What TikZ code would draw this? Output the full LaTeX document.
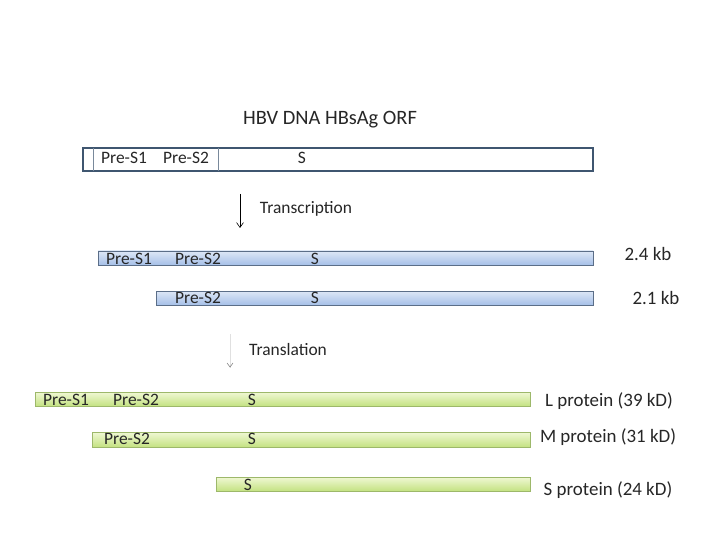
\documentclass[tikz,border=0pt]{standalone}
\usepackage{fontspec}
\setmainfont{Carlito}
\usetikzlibrary{arrows.meta}
\definecolor{boxline}{HTML}{3F5670}
\definecolor{bluetop}{HTML}{DDE7F6}
\definecolor{bluebot}{HTML}{A6C0E8}
\definecolor{blueline}{HTML}{5B6E88}
\definecolor{greentop}{HTML}{F0F8D4}
\definecolor{greenbot}{HTML}{C4E282}
\definecolor{greenline}{HTML}{9DB86A}
\tikzset{
  lbl/.style={inner sep=0pt, font=\fontsize{17.5}{20}\selectfont, text=black!85},
  rlbl/.style={inner sep=0pt, font=\fontsize{19}{22}\selectfont, text=black!85},
  bluebar/.style={draw=blueline, line width=0.6pt, top color=bluetop, bottom color=bluebot},
  greenbar/.style={draw=greenline, line width=0.6pt, top color=greentop, bottom color=greenbot},
}
\begin{document}
\begin{tikzpicture}[x=1bp,y=-1bp]
\useasboundingbox (0,0) rectangle (720,540);
% title
\node[inner sep=0pt, font=\fontsize{20.5}{24}\selectfont, text=black!85] (title) at (330,120) {HBV DNA HBsAg ORF};
% DNA box
\draw[boxline, line width=1.8pt] (83,148) rectangle (593,171);
\draw[boxline!70, line width=0.6pt] (93,148) -- (93,171);
\draw[boxline!70, line width=0.6pt] (218,148) -- (218,171);
\node[lbl] (d1) at (124,158) {Pre-S1};
\node[lbl] (d2) at (186,158) {Pre-S2};
\node[lbl] (d3) at (302,158) {S};
% transcription arrow
\coordinate (ta) at (240,194);
\coordinate (tb) at (240,228);
\draw[black, line width=0.6pt, -{Straight Barb[length=5pt,width=7pt]}] (ta) -- (tb);
\node[lbl] (trc) at (306,209) {Transcription};
% blue mRNA bars
\shade[bluebar] (98,251) rectangle (593,265);
\node[lbl] (b11) at (129,259) {Pre-S1};
\node[lbl] (b12) at (198,259) {Pre-S2};
\node[lbl] (b13) at (315,259) {S};
\node[rlbl] (k24) at (648,254) {2.4 kb};
\shade[bluebar] (156,291) rectangle (593,305);
\node[lbl] (b22) at (198,298) {Pre-S2};
\node[lbl] (b23) at (315,298) {S};
\node[rlbl] (k21) at (656,298) {2.1 kb};
% translation arrow
\coordinate (la) at (230,334);
\coordinate (lb) at (230,368);
\draw[black!12, line width=0.6pt] (la) -- (lb);
\draw[black!55, line width=0.5pt] (227,363) -- (230,367) -- (233,363);
\node[lbl] (trl) at (288,350) {Translation};
% green protein bars
\shade[greenbar] (35,392) rectangle (530,406);
\node[lbl] (g11) at (66,400) {Pre-S1};
\node[lbl] (g12) at (136,400) {Pre-S2};
\node[lbl] (g13) at (252,400) {S};
\node[rlbl] (pl) at (609,401) {L protein (39 kD)};
\shade[greenbar] (92,432) rectangle (530,447);
\node[lbl] (g22) at (127,439) {Pre-S2};
\node[lbl] (g23) at (252,439) {S};
\node[rlbl] (pm) at (608,437) {M protein (31 kD)};
\shade[greenbar] (216,477) rectangle (530,491);
\node[lbl] (g33) at (248,485) {S};
\node[rlbl] (ps) at (608,490) {S protein (24 kD)};
\end{tikzpicture}
\end{document}
